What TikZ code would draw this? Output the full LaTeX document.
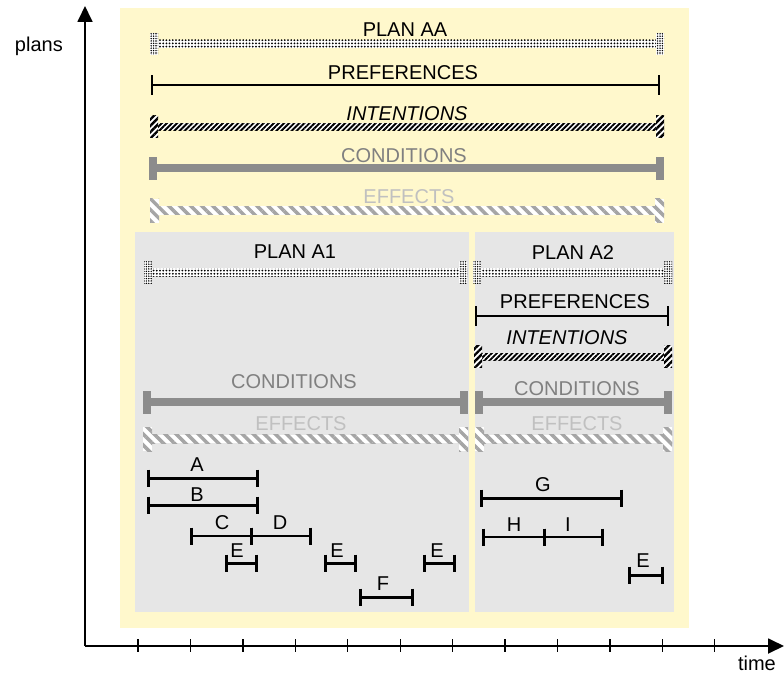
\documentclass[tikz,border=0pt]{standalone}
\usepackage{fontspec}
\setmainfont{Liberation Sans}
\usetikzlibrary{arrows.meta,patterns.meta}

\definecolor{yellowbg}{RGB}{255,248,204}
\definecolor{greybox}{RGB}{230,230,230}
\definecolor{condgrey}{RGB}{140,140,140}
\definecolor{condtext}{RGB}{128,128,128}
\definecolor{efftext}{RGB}{192,192,192}
\definecolor{effstripe}{RGB}{165,165,165}

\tikzset{
  lbl/.style={inner sep=0pt, anchor=base, font=\fontsize{20}{24}\selectfont},
  axisline/.style={line width=1.8pt, black},
  tickline/.style={line width=1.3pt, black},
  spanline/.style={line width=#1, black},
  spantick/.style={line width=3pt, black},
}

% dotted plan bar with denser dotted end caps: left, right, centre y
\newcommand\PlanBar[3]{%
  \fill[white] (#1,#3-4) rectangle (#2,#3+4);
  \fill[pattern={Dots[radius=1pt,distance=3.2pt]},pattern color=black] (#1,#3-4) rectangle (#2,#3+4);
  \fill[white] (#1,#3-11) rectangle (#1+8,#3+11);
  \fill[white] (#2-8,#3-11) rectangle (#2,#3+11);
  \fill[pattern={Dots[radius=0.8pt,distance=2.4pt]},pattern color=black] (#1,#3-11) rectangle (#1+8,#3+11);
  \fill[pattern={Dots[radius=0.8pt,distance=2.4pt]},pattern color=black] (#2-8,#3-11) rectangle (#2,#3+11);
}
% thin preference line with end ticks
\newcommand\PrefLine[3]{%
  \draw[line width=1.5pt] (#1,#3) -- (#2,#3);
  \draw[line width=1.5pt] (#1,#3-10) -- (#1,#3+10);
  \draw[line width=1.5pt] (#2,#3-10) -- (#2,#3+10);
}
% black hatched intention bar
\newcommand\IntentBar[3]{%
  \fill[white] (#1,#3-3.5) rectangle (#2,#3+3.5);
  \fill[pattern={Lines[angle=45,distance=3.6pt,line width=1.9pt]},pattern color=black] (#1,#3-3.5) rectangle (#2,#3+3.5);
  \fill[white] (#1,#3-11) rectangle (#1+8,#3+11);
  \fill[white] (#2-8,#3-11) rectangle (#2,#3+11);
  \fill[pattern={Lines[angle=45,distance=4.5pt,line width=2.4pt]},pattern color=black] (#1,#3-11) rectangle (#1+8,#3+11);
  \fill[pattern={Lines[angle=45,distance=4.5pt,line width=2.4pt]},pattern color=black] (#2-8,#3-11) rectangle (#2,#3+11);
}
% solid grey condition bar
\newcommand\CondBar[3]{%
  \fill[condgrey] (#1,#3-4.3) rectangle (#2,#3+4.3);
  \fill[condgrey] (#1,#3-11.5) rectangle (#1+8,#3+11.5);
  \fill[condgrey] (#2-8,#3-11.5) rectangle (#2,#3+11.5);
}
% light grey hatched effect bar
\newcommand\EffBar[3]{%
  \fill[white] (#1,#3-4.3) rectangle (#2,#3+4.3);
  \fill[pattern={Lines[angle=-45,distance=7.8pt,line width=3.5pt]},pattern color=effstripe] (#1,#3-4.3) rectangle (#2,#3+4.3);
  \fill[white] (#1,#3-12) rectangle (#1+9,#3+12);
  \fill[white] (#2-9,#3-12) rectangle (#2,#3+12);
  \fill[pattern={Lines[angle=-45,distance=7.8pt,line width=3.5pt]},pattern color=effstripe] (#1,#3-12) rectangle (#1+9,#3+12);
  \fill[pattern={Lines[angle=-45,distance=7.8pt,line width=3.5pt]},pattern color=effstripe] (#2-9,#3-12) rectangle (#2,#3+12);
}
% activity interval: left, right, y, line width
\newcommand\Span[4]{%
  \draw[spanline=#4] (#1,#3) -- (#2,#3);
  \draw[spantick] (#1,#3-8.5) -- (#1,#3+8.5);
  \draw[spantick] (#2,#3-8.5) -- (#2,#3+8.5);
}

\begin{document}
\begin{tikzpicture}[x=1pt,y=-1pt]
\useasboundingbox (0,0) rectangle (784,677);

% backgrounds
\fill[yellowbg] (120,8) rectangle (689,628);
\fill[greybox] (135,232) rectangle (469,612);
\fill[greybox] (475,232) rectangle (674,612);

% plan AA
\PlanBar{150}{664}{44}
\node[lbl] (planAA) at (405,37) {PLAN AA};
\PrefLine{152}{659}{85}
\node[lbl] (prefAA) at (403,79) {PREFERENCES};
\IntentBar{150}{664}{126.5}
\node[lbl] (intAA) at (407,120) {\itshape INTENTIONS};
\CondBar{149}{664}{168}
\node[lbl, text=condtext] (condAA) at (404,162) {CONDITIONS};
\EffBar{150}{664}{210.5}
\node[lbl, text=efftext] (effAA) at (409,203) {EFFECTS};

% plan A1
\node[lbl] (planA1) at (295,258) {PLAN A1};
\PlanBar{144}{467}{272}
\CondBar{143}{468}{402}
\node[lbl, text=condtext] (condA1) at (294,388) {CONDITIONS};
\EffBar{143}{468}{439}
\node[lbl, text=efftext] (effA1) at (301,430) {EFFECTS};

% plan A2
\node[lbl] (planA2) at (573,259) {PLAN A2};
\PlanBar{473}{672}{272}
\PrefLine{476}{668}{316}
\node[lbl] (prefA2) at (575,308) {PREFERENCES};
\IntentBar{474}{672}{356.5}
\node[lbl] (intA2) at (567,344) {\itshape INTENTIONS};
\CondBar{475}{672}{402}
\node[lbl, text=condtext] (condA2) at (577,395) {CONDITIONS};
\EffBar{475}{672}{439}
\node[lbl, text=efftext] (effA2) at (577,430) {EFFECTS};

% activities of plan A1
\Span{148}{257}{478}{3pt}   \node[lbl] (lA) at (197,471) {A};
\Span{148}{257}{505}{3pt}   \node[lbl] (lB) at (197,501) {B};
\Span{191}{251}{536}{2.5pt} \node[lbl] (lC) at (222,529) {C};
\Span{251}{310}{536}{2.5pt} \node[lbl] (lD) at (280,529) {D};
\Span{226}{256}{563}{3pt}   \node[lbl] (lE1) at (237,557) {E};
\Span{325}{355}{563}{3pt}   \node[lbl] (lE2) at (337,557) {E};
\Span{424}{454}{563}{3pt}   \node[lbl] (lE3) at (437,557) {E};
\Span{360}{412}{597}{3pt}   \node[lbl] (lF) at (383,590) {F};

% activities of plan A2
\Span{481}{621}{498}{3pt}   \node[lbl] (lG) at (543,491) {G};
\Span{483}{544}{537}{2.5pt} \node[lbl] (lH) at (514,531) {H};
\Span{544}{602}{537}{2.5pt} \node[lbl] (lI) at (568,531) {I};
\Span{629}{662}{575}{3pt}   \node[lbl] (lE4) at (643,567) {E};

% axes
\coordinate (origin) at (85,646);
\coordinate (ytip) at (85,6);
\coordinate (xtip) at (784,646);
\draw[axisline, -{Triangle[length=16pt,width=15pt]}] (origin) -- (ytip);
\draw[axisline, -{Triangle[length=16pt,width=15pt]}] (origin) -- (xtip);
\foreach \i in {0,...,11}
  \draw[tickline] (138+52.43*\i,639) -- (138+52.43*\i,652);
\node[lbl, anchor=base east] (plans) at (63,52) {plans};
\node[lbl, anchor=base east] (time) at (776,670) {time};
\end{tikzpicture}
\end{document}
